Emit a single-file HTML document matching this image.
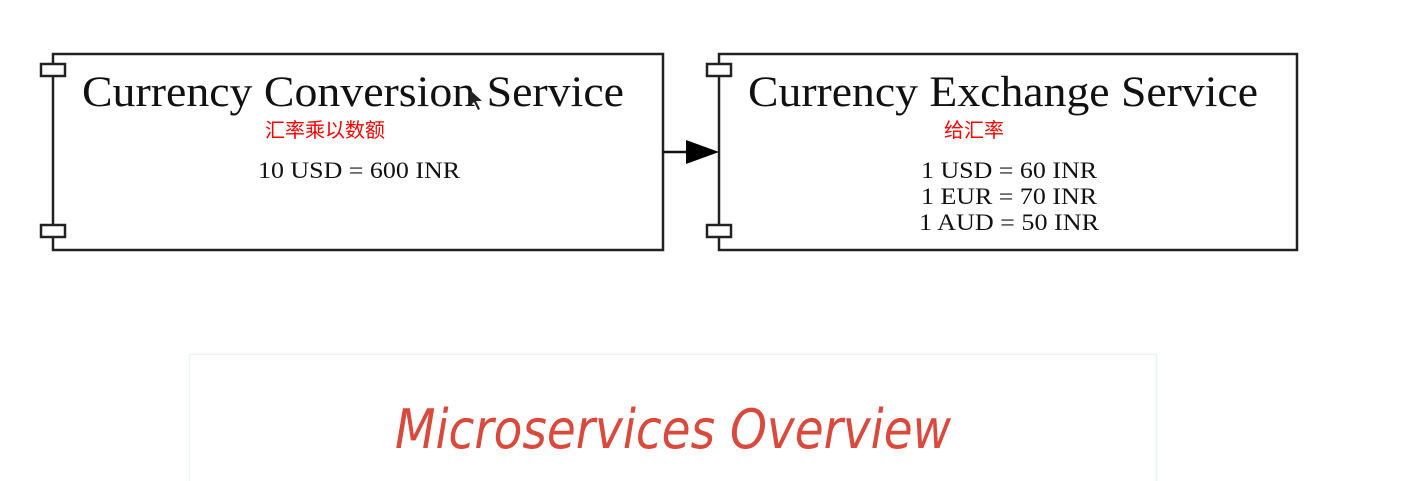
<!DOCTYPE html>
<html><head><meta charset="utf-8"><style>
html,body{margin:0;padding:0;background:#fff;width:1414px;height:481px;overflow:hidden}
svg{display:block}
</style></head><body>
<svg width="1414" height="481" viewBox="0 0 1414 481" xmlns="http://www.w3.org/2000/svg">
<g fill="#fff" stroke="#222" stroke-width="2.5">
<rect x="53" y="54" width="610" height="196"/>
<rect x="41" y="64" width="24" height="12"/>
<rect x="41" y="225" width="24" height="12"/>
<rect x="719" y="54" width="578" height="196"/>
<rect x="707" y="64" width="24" height="12"/>
<rect x="707" y="225" width="24" height="12"/>
</g>
<line x1="663" y1="152" x2="690" y2="152" stroke="#111" stroke-width="2.5"/>
<polygon points="686,140 719,152 686,164" fill="#000"/>
<g font-family="Liberation Serif, serif" fill="#111">
<text x="82" y="106" font-size="43" textLength="542" lengthAdjust="spacingAndGlyphs">Currency Conversion Service</text>
<text x="748" y="106" font-size="43" textLength="510" lengthAdjust="spacingAndGlyphs">Currency Exchange Service</text>
<text x="258" y="178" font-size="23" textLength="202" lengthAdjust="spacingAndGlyphs">10 USD = 600 INR</text>
<text x="921" y="178" font-size="23" textLength="176" lengthAdjust="spacingAndGlyphs">1 USD = 60 INR</text>
<text x="921" y="204" font-size="23" textLength="176" lengthAdjust="spacingAndGlyphs">1 EUR = 70 INR</text>
<text x="919" y="230" font-size="23" textLength="180" lengthAdjust="spacingAndGlyphs">1 AUD = 50 INR</text>
</g>
<g font-family="Liberation Sans, Noto Sans CJK SC, sans-serif" fill="#f00" font-size="20">
<text x="265" y="137">汇率乘以数额</text>
<text x="944" y="137">给汇率</text>
</g>
<rect x="189.5" y="354.5" width="967" height="140" fill="#fff" stroke="#eaf4f6" stroke-width="1.5"/>
<text x="395" y="448" font-family="DejaVu Sans, sans-serif" font-style="italic" font-size="54" fill="#d9493c" textLength="556" lengthAdjust="spacingAndGlyphs">Microservices Overview</text>
<polygon points="470,90 470,106 474,102 478,110 480,109 476,101 482,101" fill="#222"/>
</svg>
</body></html>
